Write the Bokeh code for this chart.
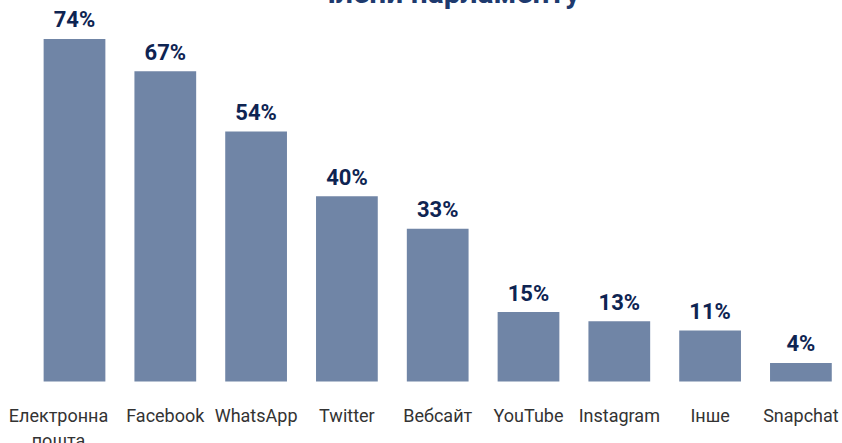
from bokeh.plotting import figure
from bokeh.models import ColumnDataSource, Range1d
from bokeh.core.properties import value
from bokeh.embed import file_html
from bokeh.resources import INLINE

categories = ["Електронна\nпошта", "Facebook", "WhatsApp", "Twitter", "Вебсайт",
              "YouTube", "Instagram", "Інше", "Snapchat"]
percent = [74, 67, 54, 40, 33, 15, 13, 11, 4]
value_labels = [f"{v}%" for v in percent]
title_text = "Члени парламенту"

EXTRA = 40
W, H = 842, 443 + EXTRA
PXX = 90.8
PXY = 4.63
BASE = 381  # page y of the bars' base
x_start = -74 / PXX
x_end = x_start + W / PXX
y_top = (BASE + EXTRA) / PXY
y_bot = (BASE - 443) / PXY

xs = list(range(len(categories)))
# wrapped labels sit a little left of their bar
lab_x = [x - (16 / PXX if "\n" in c else 0) for x, c in zip(xs, categories)]
src = ColumnDataSource(dict(x=xs, top=percent, lab=value_labels,
                            lab_y=[v + 19 / PXY for v in percent]))
src_cat = ColumnDataSource(dict(x=lab_x, cat=categories,
                                y=[-23 / PXY] * len(xs)))

p = figure(width=W, height=H, output_backend="svg", toolbar_location=None,
           x_range=Range1d(x_start, x_end), y_range=Range1d(y_bot, y_top),
           min_border=0, min_border_left=0, min_border_right=0,
           min_border_top=0, min_border_bottom=0)
p.styles = {"margin-top": f"-{EXTRA}px"}
p.axis.visible = False
p.grid.visible = False
p.outline_line_color = None
p.background_fill_color = "white"
p.border_fill_color = "white"

p.vbar(x="x", top="top", bottom=0, width=0.68, source=src,
       fill_color="#7085a6", line_color=None)

p.text(x="x", y="lab_y", text="lab", source=src,
       text_align="center", text_baseline="alphabetic",
       text_font=value("Roboto"), text_font_style="bold",
       text_font_size="22px", text_color="#0e2452")

p.text(x="x", y="y", text="cat", source=src_cat,
       text_align="center", text_baseline="top",
       text_font=value("Roboto"), text_font_size="18px",
       text_color="#333333", text_line_height=1.2)

title_x = x_start + 447 / PXX
title_y = (BASE + 8) / PXY
p.text(x=[title_x], y=[title_y], text=[title_text], text_align="center",
       text_baseline="alphabetic", text_font=value("Roboto"),
       text_font_style="bold", text_font_size="30px", text_color="#1e3a6e")

open("out.html", "w").write(file_html(p, INLINE))
